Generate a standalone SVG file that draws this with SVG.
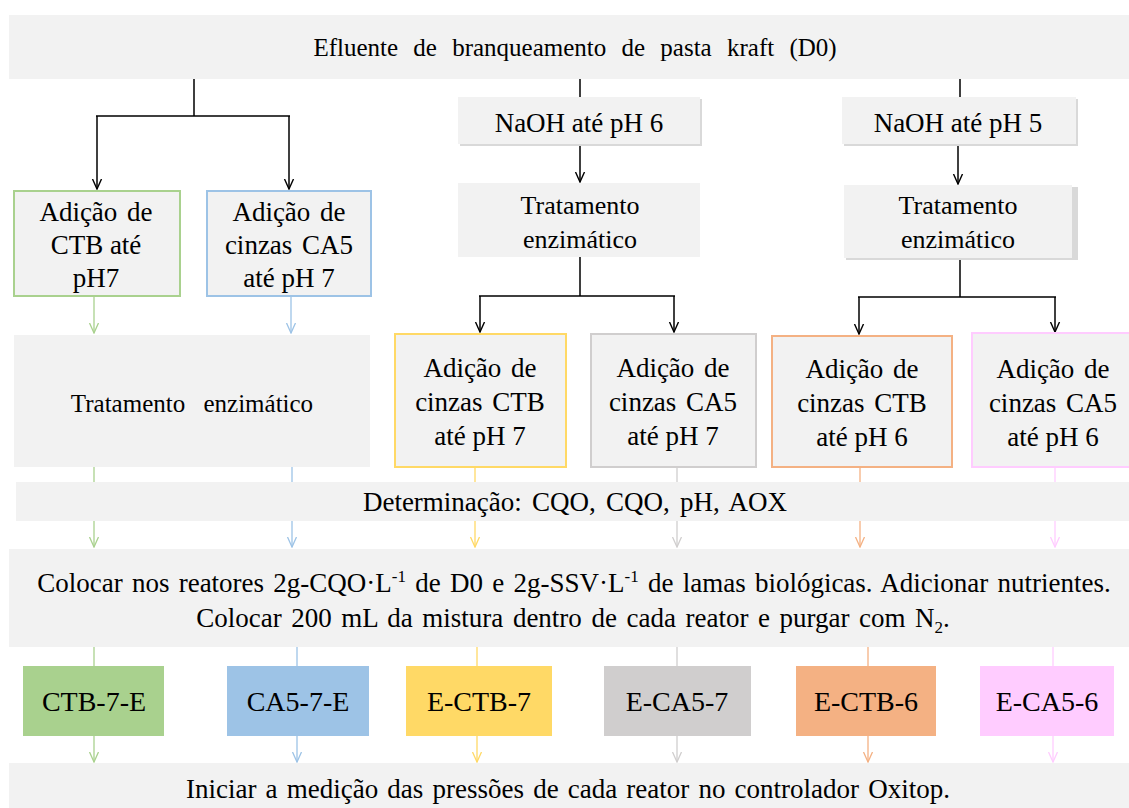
<svg xmlns="http://www.w3.org/2000/svg" width="1129" height="808" viewBox="0 0 1129 808">
  <style>
    .box{fill:#F2F2F2}
    .shadow{fill:#D9D9D9}
    text{font-family:'Liberation Serif','Times New Roman',serif;fill:#000;text-anchor:middle}
    .s25{font-size:25px}
    .s26{font-size:26px}
    .s27{font-size:27px}
    .s28{font-size:28px}
    .k{fill:none;stroke:#000;stroke-width:1.5}
    .cg{fill:none;stroke:#A9D18E;stroke-width:1.3}
    .cb{fill:none;stroke:#9DC3E6;stroke-width:1.3}
    .cy{fill:none;stroke:#FFD966;stroke-width:1.3}
    .cs{fill:none;stroke:#D0CECE;stroke-width:1.3}
    .co{fill:none;stroke:#F4B183;stroke-width:1.3}
    .cp{fill:none;stroke:#FFCCFF;stroke-width:1.3}
  </style>
  <defs>
    <marker id="ak" viewBox="-10 -6 11 12" refX="0" refY="0" markerWidth="11" markerHeight="12" markerUnits="userSpaceOnUse" orient="auto">
      <path d="M-10,-4.5 L0,0 L-10,4.5" fill="none" stroke="#000" stroke-width="1.4"/>
    </marker>
    <marker id="ag" viewBox="-10 -6 11 12" refX="0" refY="0" markerWidth="11" markerHeight="12" markerUnits="userSpaceOnUse" orient="auto">
      <path d="M-10,-4.5 L0,0 L-10,4.5" fill="none" stroke="#A9D18E" stroke-width="1.3"/>
    </marker>
    <marker id="ab" viewBox="-10 -6 11 12" refX="0" refY="0" markerWidth="11" markerHeight="12" markerUnits="userSpaceOnUse" orient="auto">
      <path d="M-10,-4.5 L0,0 L-10,4.5" fill="none" stroke="#9DC3E6" stroke-width="1.3"/>
    </marker>
    <marker id="ay" viewBox="-10 -6 11 12" refX="0" refY="0" markerWidth="11" markerHeight="12" markerUnits="userSpaceOnUse" orient="auto">
      <path d="M-10,-4.5 L0,0 L-10,4.5" fill="none" stroke="#FFD966" stroke-width="1.3"/>
    </marker>
    <marker id="as" viewBox="-10 -6 11 12" refX="0" refY="0" markerWidth="11" markerHeight="12" markerUnits="userSpaceOnUse" orient="auto">
      <path d="M-10,-4.5 L0,0 L-10,4.5" fill="none" stroke="#D0CECE" stroke-width="1.3"/>
    </marker>
    <marker id="ao" viewBox="-10 -6 11 12" refX="0" refY="0" markerWidth="11" markerHeight="12" markerUnits="userSpaceOnUse" orient="auto">
      <path d="M-10,-4.5 L0,0 L-10,4.5" fill="none" stroke="#F4B183" stroke-width="1.3"/>
    </marker>
    <marker id="ap" viewBox="-10 -6 11 12" refX="0" refY="0" markerWidth="11" markerHeight="12" markerUnits="userSpaceOnUse" orient="auto">
      <path d="M-10,-4.5 L0,0 L-10,4.5" fill="none" stroke="#FFCCFF" stroke-width="1.3"/>
    </marker>
  </defs>

  <rect width="1129" height="808" fill="#fff"/>

  <!-- connectors -->
  <g id="connectors">
    <!-- left branch -->
    <path class="k" d="M194,79 V116 M96,116 H290"/>
    <path class="k" d="M97,116 V189" marker-end="url(#ak)"/>
    <path class="k" d="M289,116 V189" marker-end="url(#ak)"/>
    <!-- pH 6 branch -->
    <path class="k" d="M580,79 V97"/>
    <path class="k" d="M580,144 V182" marker-end="url(#ak)"/>
    <path class="k" d="M580,257 V296 M479,296 H675"/>
    <path class="k" d="M480,296 V332" marker-end="url(#ak)"/>
    <path class="k" d="M674,296 V332" marker-end="url(#ak)"/>
    <!-- pH 5 branch -->
    <path class="k" d="M960,79 V97"/>
    <path class="k" d="M958,144 V184" marker-end="url(#ak)"/>
    <path class="k" d="M960,259 V297 M858,297 H1056"/>
    <path class="k" d="M859,297 V334" marker-end="url(#ak)"/>
    <path class="k" d="M1055,297 V332" marker-end="url(#ak)"/>
    <!-- coloured columns -->
    <path class="cg" d="M94,296 V333" marker-end="url(#ag)"/>
    <path class="cb" d="M291,296 V333" marker-end="url(#ab)"/>
    <path class="cg" d="M94,467 V547" marker-end="url(#ag)"/>
    <path class="cb" d="M292,467 V547" marker-end="url(#ab)"/>
    <path class="cy" d="M475,467 V547" marker-end="url(#ay)"/>
    <path class="cs" d="M677,467 V547" marker-end="url(#as)"/>
    <path class="co" d="M860,467 V547" marker-end="url(#ao)"/>
    <path class="cp" d="M1055,467 V547" marker-end="url(#ap)"/>
    <path class="cg" d="M94,647 V666"/>
    <path class="cb" d="M297,647 V666"/>
    <path class="cy" d="M477,647 V666"/>
    <path class="cs" d="M677,647 V666"/>
    <path class="co" d="M868,647 V666"/>
    <path class="cp" d="M1053,647 V666"/>
    <path class="cg" d="M94,736 V762" marker-end="url(#ag)"/>
    <path class="cb" d="M297,736 V762" marker-end="url(#ab)"/>
    <path class="cy" d="M477,736 V762" marker-end="url(#ay)"/>
    <path class="cs" d="M677,736 V762" marker-end="url(#as)"/>
    <path class="co" d="M868,736 V762" marker-end="url(#ao)"/>
    <path class="cp" d="M1053,736 V762" marker-end="url(#ap)"/>
  </g>

  <g id="n-efluente">
    <rect class="box" x="9" y="15" width="1120" height="64"/>
    <text class="s25" x="575" y="56" word-spacing="9">Efluente de branqueamento de pasta kraft (D0)</text>
  </g>

  <g id="n-naoh6">
    <rect class="shadow" x="460" y="99" width="242" height="47"/>
    <rect class="box" x="458" y="97" width="242" height="47"/>
    <text class="s27" x="579" y="132">NaOH até pH 6</text>
  </g>

  <g id="n-naoh5">
    <rect class="shadow" x="844" y="99" width="234" height="47"/>
    <rect class="box" x="842" y="97" width="234" height="47"/>
    <text class="s27" x="958" y="132">NaOH até pH 5</text>
  </g>

  <g id="n-trat6">
    <rect class="box" x="458" y="183" width="242" height="74"/>
    <text class="s26" x="580" y="214">Tratamento</text>
    <text class="s26" x="580" y="248">enzimático</text>
  </g>

  <g id="n-trat5">
    <rect class="shadow" x="846" y="187" width="232" height="73"/>
    <rect class="box" x="844" y="185" width="228" height="73"/>
    <text class="s26" x="958" y="214">Tratamento</text>
    <text class="s26" x="958" y="248">enzimático</text>
  </g>

  <g id="n-ctb7">
    <rect class="box" x="14" y="191" width="166" height="105" stroke="#A9D18E" stroke-width="2"/>
    <text class="s27" x="96" y="221" word-spacing="3">Adição de</text>
    <text class="s27" x="96" y="254">CTB até</text>
    <text class="s27" x="96" y="287">pH7</text>
  </g>

  <g id="n-ca57">
    <rect class="box" x="207" y="191" width="164" height="105" stroke="#9DC3E6" stroke-width="2"/>
    <text class="s27" x="289" y="221" word-spacing="3">Adição de</text>
    <text class="s27" x="289" y="254" word-spacing="3">cinzas CA5</text>
    <text class="s27" x="289" y="287">até pH 7</text>
  </g>

  <g id="n-trat-left">
    <rect class="box" x="14" y="335" width="356" height="132"/>
    <text class="s25" x="192" y="412" word-spacing="12">Tratamento enzimático</text>
  </g>

  <g id="n-ectb7">
    <rect class="box" x="395" y="334" width="171" height="133" stroke="#FFD966" stroke-width="2"/>
    <text class="s27" x="480" y="377" word-spacing="3">Adição de</text>
    <text class="s27" x="480" y="411" word-spacing="3">cinzas CTB</text>
    <text class="s27" x="480" y="445">até pH 7</text>
  </g>

  <g id="n-eca57">
    <rect class="box" x="591" y="334" width="165" height="133" stroke="#D0CECE" stroke-width="2"/>
    <text class="s27" x="673" y="377" word-spacing="3">Adição de</text>
    <text class="s27" x="673" y="411" word-spacing="3">cinzas CA5</text>
    <text class="s27" x="673" y="445">até pH 7</text>
  </g>

  <g id="n-ectb6">
    <rect class="box" x="772" y="336" width="180" height="131" stroke="#F4B183" stroke-width="2"/>
    <text class="s27" x="862" y="378" word-spacing="3">Adição de</text>
    <text class="s27" x="862" y="412" word-spacing="3">cinzas CTB</text>
    <text class="s27" x="862" y="446">até pH 6</text>
  </g>

  <g id="n-eca56">
    <rect class="box" x="972" y="333" width="170" height="134" stroke="#FFCCFF" stroke-width="2"/>
    <text class="s27" x="1053" y="378" word-spacing="3">Adição de</text>
    <text class="s27" x="1053" y="412" word-spacing="3">cinzas CA5</text>
    <text class="s27" x="1053" y="446">até pH 6</text>
  </g>

  <g id="n-determinacao">
    <rect class="box" x="16" y="482" width="1113" height="39"/>
    <text class="s27" x="575" y="511" word-spacing="3.5">Determinação: CQO, CQO, pH, AOX</text>
  </g>

  <g id="n-reatores">
    <rect class="box" x="9" y="549" width="1120" height="98"/>
    <text class="s27" x="574" y="592" word-spacing="2.5">Colocar nos reatores 2g-CQO·L<tspan font-size="17" dy="-10">-1</tspan><tspan dy="10"> de D0 e 2g-SSV·L</tspan><tspan font-size="17" dy="-10">-1</tspan><tspan dy="10"> de lamas biológicas. Adicionar nutrientes.</tspan></text>
    <text class="s27" x="573" y="627" word-spacing="2.8">Colocar 200 mL da mistura dentro de cada reator e purgar com N<tspan font-size="17" dy="6">2</tspan><tspan dy="-6">.</tspan></text>
  </g>

  <g id="r-ctb-7-e">
    <rect x="23" y="666" width="141" height="70" fill="#A9D18E"/>
    <text class="s28" x="94" y="711">CTB-7-E</text>
  </g>
  <g id="r-ca5-7-e">
    <rect x="227" y="666" width="142" height="70" fill="#9DC3E6"/>
    <text class="s28" x="298" y="711">CA5-7-E</text>
  </g>
  <g id="r-e-ctb-7">
    <rect x="406" y="666" width="146" height="70" fill="#FFD966"/>
    <text class="s28" x="479" y="711">E-CTB-7</text>
  </g>
  <g id="r-e-ca5-7">
    <rect x="604" y="666" width="147" height="70" fill="#D0CECE"/>
    <text class="s28" x="677" y="711">E-CA5-7</text>
  </g>
  <g id="r-e-ctb-6">
    <rect x="796" y="666" width="140" height="70" fill="#F4B183"/>
    <text class="s28" x="866" y="711">E-CTB-6</text>
  </g>
  <g id="r-e-ca5-6">
    <rect x="980" y="666" width="134" height="70" fill="#FFCCFF"/>
    <text class="s28" x="1047" y="711">E-CA5-6</text>
  </g>

  <g id="n-oxitop">
    <rect class="box" x="9" y="763" width="1120" height="45"/>
    <text class="s27" x="568" y="798" word-spacing="2.4">Iniciar a medição das pressões de cada reator no controlador Oxitop.</text>
  </g>
</svg>
